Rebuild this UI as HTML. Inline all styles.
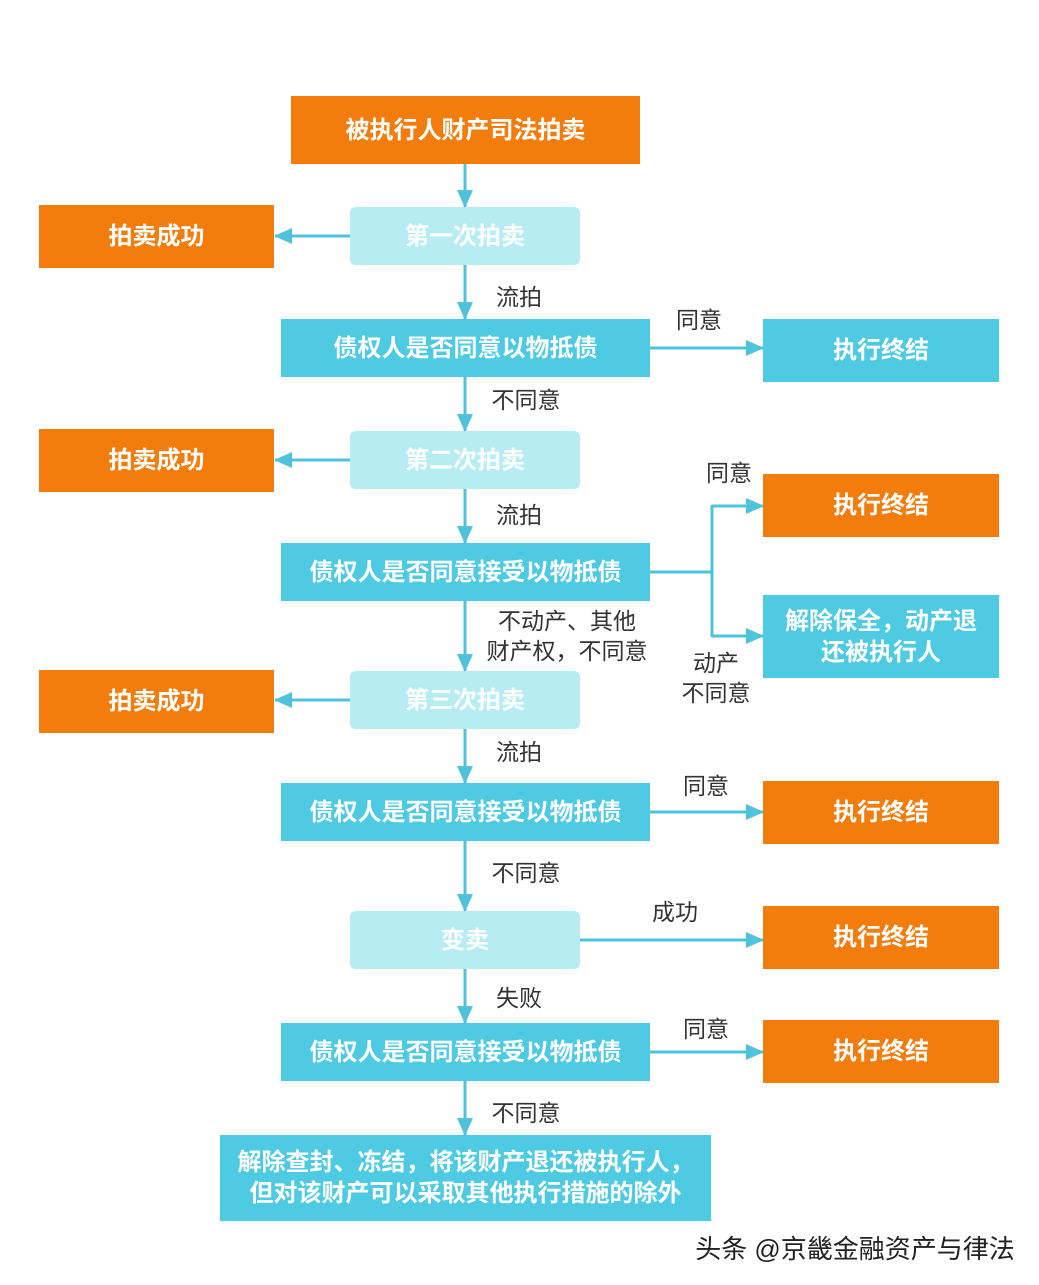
<!DOCTYPE html>
<html><head><meta charset="utf-8"><style>
body{margin:0;width:1039px;height:1285px;background:#fff;position:relative;overflow:hidden;font-family:"Liberation Sans","Noto Sans CJK SC",sans-serif}
.b{position:absolute;display:flex;align-items:center;justify-content:center;text-align:center;color:#fff;font-size:24px;font-weight:bold;line-height:31px}
.o{background:#f27d0c}
.c{background:#4ecbe2}
.l{background:#b6ecf2;border-radius:6px}
.t{position:absolute;font-size:23px;color:#333;line-height:30px;text-align:center;transform:translate(-50%,-50%);white-space:nowrap}
svg{position:absolute;left:0;top:0}
</style></head><body>
<svg width="1039" height="1285">
<defs><marker id="b" markerWidth="18" markerHeight="16" refX="17" refY="8" orient="auto" markerUnits="userSpaceOnUse"><path d="M0,0 L18,8 L0,16 Z" fill="#4ec3dc"/></marker></defs>
<g stroke="#4ec3dc" stroke-width="3" fill="none" marker-end="url(#b)">
<path d="M465 164 V207"/><path d="M465 265 V319"/><path d="M465 377 V431"/><path d="M465 489 V543"/>
<path d="M465 601 V671"/><path d="M465 729 V783"/><path d="M465 841 V911"/><path d="M465 969 V1023"/><path d="M465 1081 V1135"/>
<path d="M350 236 H275"/><path d="M350 460 H275"/><path d="M350 700 H275"/>
<path d="M650 348 H763"/><path d="M650 812 H763"/><path d="M580 940 H763"/><path d="M650 1052 H763"/>
<path d="M712 506 H763"/><path d="M712 636 H763"/>
</g>
<path d="M650 572 H712 M712 505 V637" stroke="#4ec3dc" stroke-width="3" fill="none"/>
</svg>
<div class="b o" style="left:291px;top:96px;width:349px;height:68px">被执行人财产司法拍卖</div>
<div class="b l" style="left:350px;top:207px;width:230px;height:58px">第一次拍卖</div>
<div class="b l" style="left:350px;top:431px;width:230px;height:58px">第二次拍卖</div>
<div class="b l" style="left:350px;top:671px;width:230px;height:58px">第三次拍卖</div>
<div class="b l" style="left:350px;top:911px;width:230px;height:58px">变卖</div>
<div class="b c" style="left:281px;top:319px;width:369px;height:58px">债权人是否同意以物抵债</div>
<div class="b c" style="left:281px;top:543px;width:369px;height:58px">债权人是否同意接受以物抵债</div>
<div class="b c" style="left:281px;top:783px;width:369px;height:58px">债权人是否同意接受以物抵债</div>
<div class="b c" style="left:281px;top:1023px;width:369px;height:58px">债权人是否同意接受以物抵债</div>
<div class="b o" style="left:39px;top:205px;width:235px;height:63px">拍卖成功</div>
<div class="b o" style="left:39px;top:429px;width:235px;height:63px">拍卖成功</div>
<div class="b o" style="left:39px;top:670px;width:235px;height:63px">拍卖成功</div>
<div class="b c" style="left:763px;top:319px;width:236px;height:63px">执行终结</div>
<div class="b o" style="left:763px;top:474px;width:236px;height:63px">执行终结</div>
<div class="b c" style="left:763px;top:595px;width:236px;height:83px">解除保全，动产退<br>还被执行人</div>
<div class="b o" style="left:763px;top:781px;width:236px;height:63px">执行终结</div>
<div class="b o" style="left:763px;top:906px;width:236px;height:63px">执行终结</div>
<div class="b o" style="left:763px;top:1020px;width:236px;height:63px">执行终结</div>
<div class="b c" style="left:220px;top:1135px;width:491px;height:86px">解除查封、冻结，将该财产退还被执行人，<br>但对该财产可以采取其他执行措施的除外</div>
<div class="t" style="left:519px;top:297px">流拍</div>
<div class="t" style="left:699px;top:320px">同意</div>
<div class="t" style="left:526px;top:400px">不同意</div>
<div class="t" style="left:519px;top:515px">流拍</div>
<div class="t" style="left:729px;top:473px">同意</div>
<div class="t" style="left:567px;top:636px">不动产、其他<br>财产权，不同意</div>
<div class="t" style="left:716px;top:678px">动产<br>不同意</div>
<div class="t" style="left:519px;top:752px">流拍</div>
<div class="t" style="left:706px;top:786px">同意</div>
<div class="t" style="left:526px;top:873px">不同意</div>
<div class="t" style="left:675px;top:912px">成功</div>
<div class="t" style="left:519px;top:998px">失败</div>
<div class="t" style="left:706px;top:1029px">同意</div>
<div class="t" style="left:526px;top:1113px">不同意</div>
<div class="t" style="left:855px;top:1249px;font-size:26px;color:#222">头条 @京畿金融资产与律法</div>
</body></html>
